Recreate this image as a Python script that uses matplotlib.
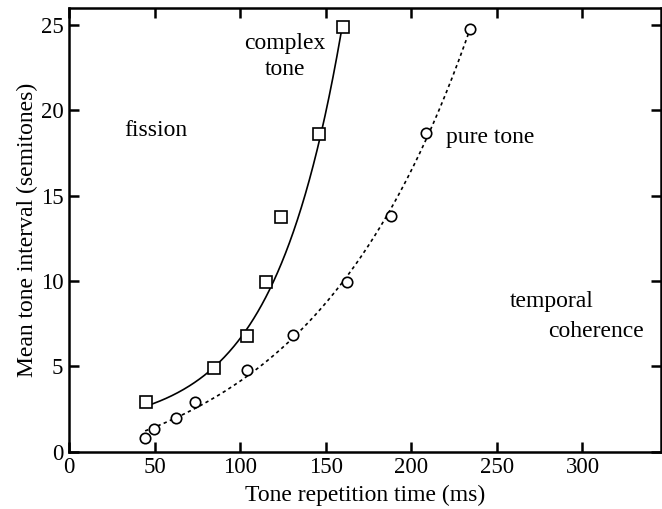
#!/usr/bin/env python
# coding:utf8
"""
Mean tone interval vs tone repetition time (fission / temporal coherence)
"""
import numpy as np
import matplotlib
matplotlib.use('Agg')
import matplotlib.pyplot as plt

plt.rcParams['font.family'] = ['Liberation Serif', 'DejaVu Serif']

# complex tone (squares)
complex_x = [45, 85, 104, 115, 124, 146, 160]
complex_y = [2.9, 4.9, 6.8, 9.95, 13.75, 18.6, 24.9]
# 拟合曲线经过的点 (115, 124 两点在曲线左侧)
complex_fit = [1, 1, 1, 0, 0, 1, 1]
# pure tone (circles)
pure_x = [44.5, 49.5, 62.5, 73.5, 104, 131, 162.5, 188, 208.5, 234.5]
pure_y = [0.8, 1.35, 1.95, 2.9, 4.8, 6.85, 9.95, 13.8, 18.65, 24.8]


def exp_fit(xs, ys, mask=None):
    """ y = a + b*exp(c*x), 最小二乘 (c 网格搜索) """
    xs = np.asarray(xs, float)
    ys = np.asarray(ys, float)
    lo, hi = xs.min(), xs.max()
    if mask is not None:
        m = np.asarray(mask, bool)
        xs, ys = xs[m], ys[m]
    best = None
    for c in np.linspace(0.001, 0.08, 1600):
        A = np.column_stack([np.ones_like(xs), np.exp(c * xs)])
        coef = np.linalg.lstsq(A, ys, rcond=None)[0]
        err = np.sum((A @ coef - ys) ** 2)
        if best is None or err < best[0]:
            best = (err, coef, c)
    _, (a, b), c = best
    xx = np.linspace(lo, hi, 200)
    return xx, a + b * np.exp(c * xx)


fig = plt.figure(figsize=(6.62, 5.09), dpi=100)
ax = fig.add_axes([0.1042, 0.1126, 0.8946, 0.8716])

cx, cy = exp_fit(complex_x, complex_y, complex_fit)
px, py = exp_fit(pure_x, pure_y)
ax.plot(cx, cy, color='black', lw=1.2)
ax.plot(px, py, color='black', lw=1.2, linestyle=(0, (2, 2)))
ax.plot(complex_x, complex_y, 's', ms=8.5, mfc='white', mec='black', mew=1.2)
ax.plot(pure_x, pure_y, 'o', ms=7.5, mfc='white', mec='black', mew=1.2)

fs = 17
ax.text(50.5, 18.8, 'fission', fontsize=fs, ha='center', va='center')
ax.text(126, 23.15, 'complex\ntone', fontsize=fs, ha='center', va='center',
        linespacing=1.3)
ax.text(220.5, 18.4, 'pure tone', fontsize=fs, ha='left', va='center')
ax.text(257.5, 8.8, 'temporal', fontsize=fs, ha='left', va='center')
ax.text(336, 7.05, 'coherence', fontsize=fs, ha='right', va='center')

ax.set_xlim(0, 346)
ax.set_ylim(0, 26)
ax.set_xticks([0, 50, 100, 150, 200, 250, 300])
ax.set_yticks([0, 5, 10, 15, 20, 25])
ax.tick_params(direction='in', length=7, width=1.8, labelsize=16.5,
               top=True, right=True, pad=4)
for sp in ax.spines.values():
    sp.set_linewidth(1.8)
ax.set_xlabel('Tone repetition time (ms)', fontsize=fs, labelpad=5)
ax.set_ylabel('Mean tone interval (semitones)', fontsize=fs, labelpad=2)

plt.savefig('out.png', dpi=100)
